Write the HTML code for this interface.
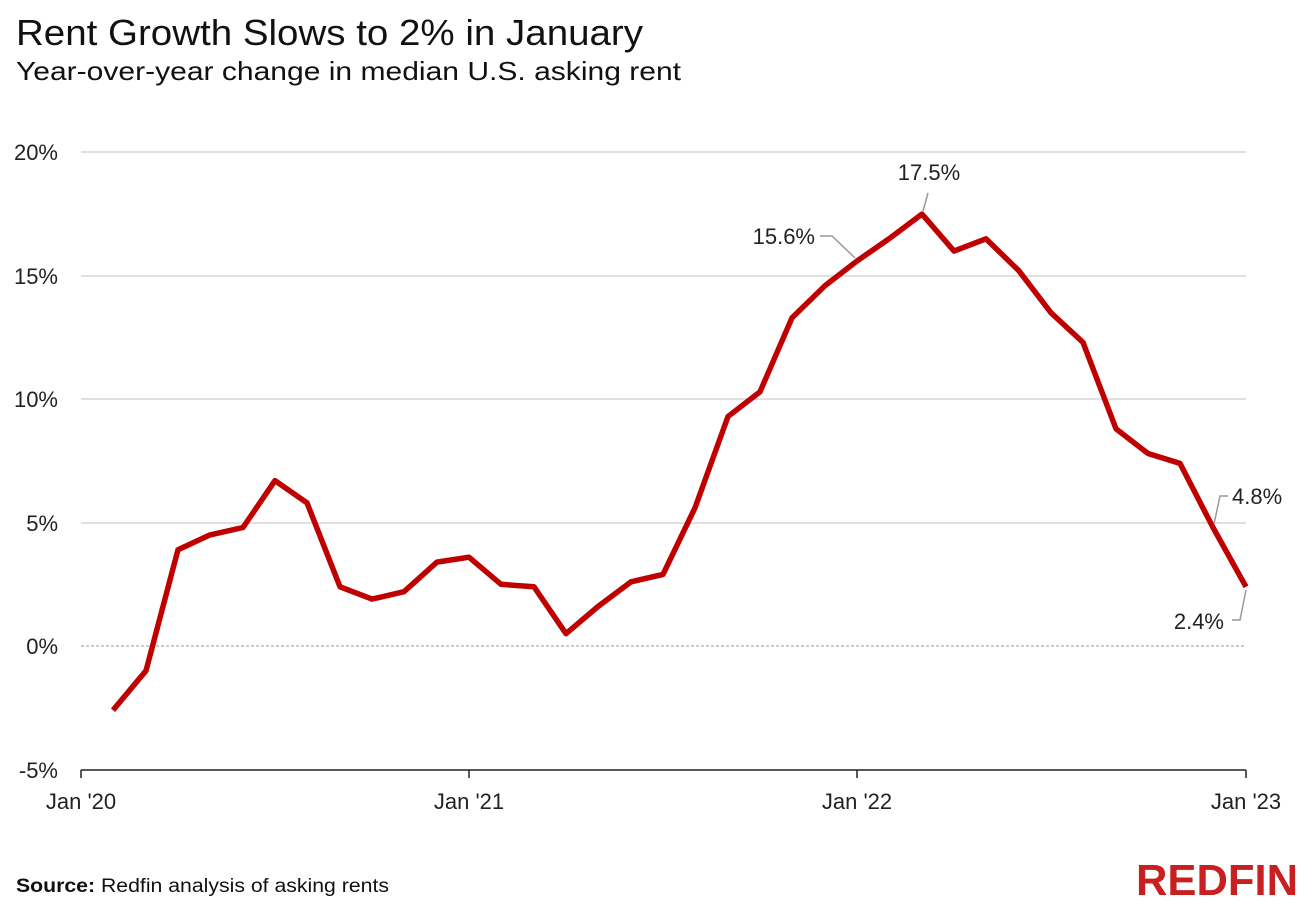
<!DOCTYPE html>
<html><head><meta charset="utf-8"><style>
html,body{margin:0;padding:0;background:#fff;}
svg{display:block;font-family:"Liberation Sans",sans-serif;}
</style></head><body>
<svg width="1300" height="899" viewBox="0 0 1300 899" xmlns="http://www.w3.org/2000/svg">
<text x="16" y="45" font-size="36" fill="#111" textLength="627" lengthAdjust="spacingAndGlyphs">Rent Growth Slows to 2% in January</text>
<text x="16" y="80" font-size="26" fill="#111" textLength="665" lengthAdjust="spacingAndGlyphs">Year-over-year change in median U.S. asking rent</text>
<g stroke="#d6d6d6" stroke-width="1.5">
<line x1="81" x2="1246" y1="152" y2="152"/>
<line x1="81" x2="1246" y1="276" y2="276"/>
<line x1="81" x2="1246" y1="399" y2="399"/>
<line x1="81" x2="1246" y1="523" y2="523"/>
</g>
<line x1="81" x2="1246" y1="646" y2="646" stroke="#999" stroke-width="1" stroke-dasharray="3,2"/>
<line x1="81" x2="1246" y1="770" y2="770" stroke="#222" stroke-width="1.5"/>
<g stroke="#222" stroke-width="1.5">
<line x1="81" x2="81" y1="770" y2="778"/><line x1="469" x2="469" y1="770" y2="778"/>
<line x1="857" x2="857" y1="770" y2="778"/><line x1="1246" x2="1246" y1="770" y2="778"/>
</g>
<g font-size="22" fill="#222" text-anchor="end">
<text x="58" y="160">20%</text><text x="58" y="284">15%</text><text x="58" y="407">10%</text>
<text x="58" y="531">5%</text><text x="58" y="654">0%</text><text x="58" y="778">-5%</text>
</g>
<g font-size="22" fill="#222" text-anchor="middle">
<text x="81" y="809">Jan '20</text><text x="469" y="809">Jan '21</text>
<text x="857" y="809">Jan '22</text><text x="1246" y="809">Jan '23</text>
</g>
<polyline fill="none" stroke="#c00000" stroke-width="5.5" stroke-linejoin="round" points="113,710.2 146,670.7 178,549.7 210,534.9 243,527.5 275,480.6 307,502.9 340,586.8 372,599.1 404,591.7 437,562.1 469,557.2 501,584.3 534,586.8 566,633.7 598,606.5 631,581.8 663,574.4 695,507.8 728,416.5 760,391.8 792,317.8 825,285.7 857,261 889,238.8 922,214.1 954,251.1 986,238.8 1019,270.9 1051,312.8 1083,342.4 1116,428.8 1148,453.5 1180,463.4 1213,527.5 1246,586.8"/>
<g fill="none" stroke="#999" stroke-width="1.5">
<polyline points="923,211 928,193"/>
<polyline points="820,236 832,236 855,258"/>
<polyline points="1214,524 1220,496 1228,496"/>
<polyline points="1246,590 1240,620 1232,620"/>
</g>
<g font-size="22" fill="#222">
<text x="929" y="180" text-anchor="middle">17.5%</text>
<text x="815" y="244" text-anchor="end">15.6%</text>
<text x="1232" y="504">4.8%</text>
<text x="1224" y="629" text-anchor="end">2.4%</text>
</g>
<text x="16" y="892" font-size="19" fill="#111" textLength="373" lengthAdjust="spacingAndGlyphs"><tspan font-weight="bold">Source:</tspan> Redfin analysis of asking rents</text>
<text x="1298" y="895" font-size="44" font-weight="bold" fill="#c82021" text-anchor="end" textLength="162" lengthAdjust="spacingAndGlyphs">REDFIN</text>
</svg>
</body></html>
